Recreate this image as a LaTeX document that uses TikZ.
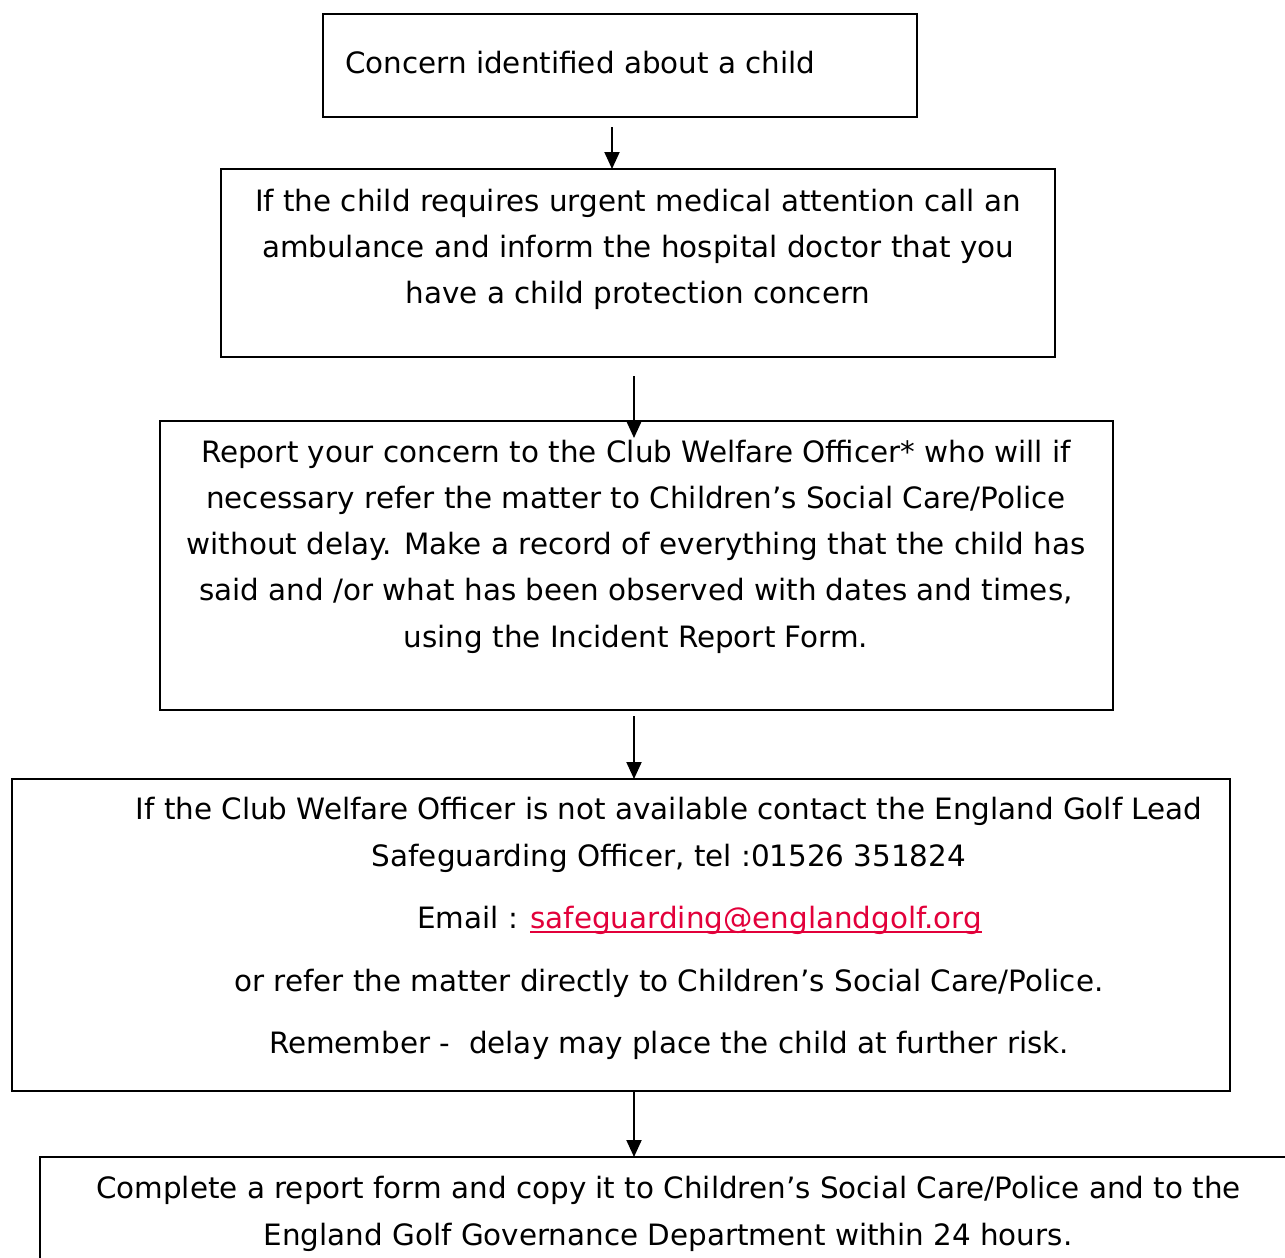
\documentclass[tikz,border=0pt]{standalone}
\usepackage{fontspec}
\setmainfont{DejaVu Sans}
\usetikzlibrary{arrows.meta}
\definecolor{linkred}{RGB}{226,0,58}
\newcommand\myul[1]{\setbox0\hbox{#1}\rlap{\rule[-5pt]{\wd0}{2pt}}\box0}
\begin{document}
\begin{tikzpicture}[x=1pt,y=-1pt,
  box/.style={draw,line width=2.4pt,inner sep=0pt,outer sep=0pt},
  txt/.style={inner sep=0pt,font=\fontsize{29.4}{46}\selectfont,anchor=base},
  arr/.style={line width=2pt,-{Triangle[length=17pt,width=15pt]}}]
\useasboundingbox (0,0) rectangle (1285,1258);
% boxes
\node[box,minimum width=594pt,minimum height=103pt] (b1) at (620,65.5) {};
\node[box,minimum width=834pt,minimum height=188pt] (b2) at (638,263) {};
\node[box,minimum width=953pt,minimum height=289pt] (b3) at (636.5,565.5) {};
\node[box,minimum width=1218pt,minimum height=312pt] (b4) at (621,935) {};
\node[box,minimum width=1260pt,minimum height=123pt] (b5) at (670,1218.5) {};
% texts
\node[txt,anchor=base west] (t1) at (345,73) {Concern identified about a child};
\node[txt] (t21) at (638,211) {If the child requires urgent medical attention call an};
\node[txt] (t22) at (638,257) {ambulance and inform the hospital doctor that you};
\node[txt] (t23) at (638,303) {have a child protection concern};
\node[txt] (t31) at (636,462) {Report your concern to the Club Welfare Officer* who will if};
\node[txt] (t32) at (636,508) {necessary refer the matter to Children’s Social Care/Police};
\node[txt] (t33) at (636,554) {without delay. Make a record of everything that the child has};
\node[txt] (t34) at (636,600) {said and /or what has been observed with dates and times,};
\node[txt] (t35) at (636,647) {using the Incident Report Form.};
\node[txt] (t41) at (669,819) {If the Club Welfare Officer is not available contact the England Golf Lead};
\node[txt] (t42) at (669,866) {Safeguarding Officer, tel :01526 351824};
\node[txt,anchor=base west] (t43) at (417,928) {Email : \textcolor{linkred}{\myul{safeguarding@englandgolf.org}}};
\node[txt] (t44) at (669,991) {or refer the matter directly to Children’s Social Care/Police.};
\node[txt] (t45) at (669,1053) {Remember -\ \ delay may place the child at further risk.};
\node[txt] (t51) at (668.5,1198) {Complete a report form and copy it to Children’s Social Care/Police and to the};
\node[txt] (t52) at (668,1245) {England Golf Governance Department within 24 hours.};
% arrows
\coordinate (a1s) at (612,127);
\coordinate (a2s) at (634,376);
\coordinate (a2e) at (634,438);
\coordinate (a3s) at (634,716);
\coordinate (a4s) at (634,1092);
\draw[arr] (a1s) -- (a1s |- b2.north);
\draw[arr] (a2s) -- (a2e);
\draw[arr] (a3s) -- (a3s |- b4.north);
\draw[arr] (a4s) -- (a4s |- b5.north);
\end{tikzpicture}
\end{document}
